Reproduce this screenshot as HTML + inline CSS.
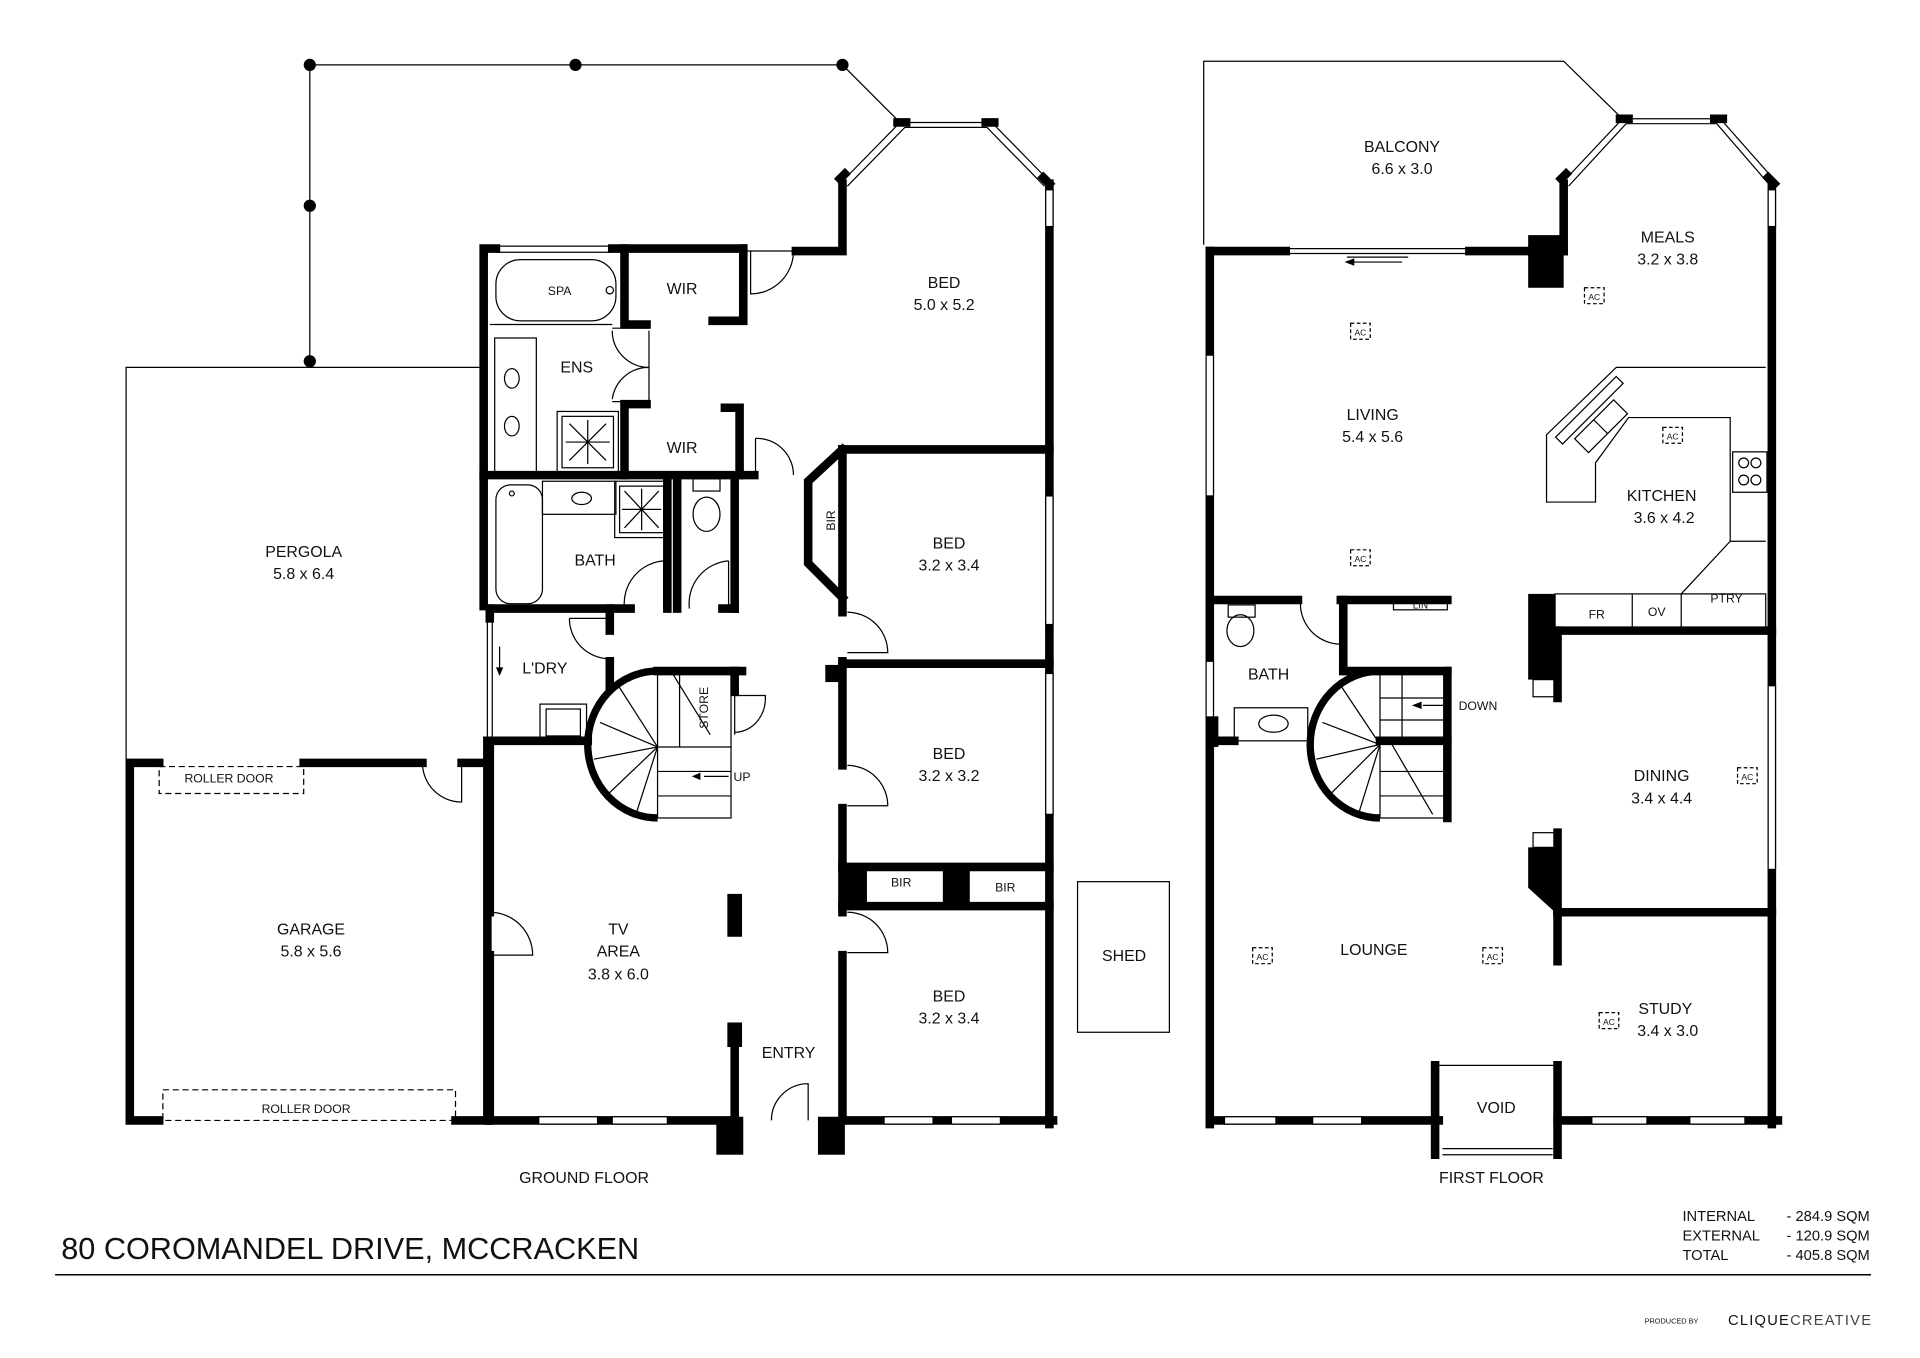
<!DOCTYPE html>
<html><head><meta charset="utf-8"><style>
html,body{margin:0;padding:0;background:#fff;width:1920px;height:1358px;overflow:hidden}
svg{display:block}
text{font-family:"Liberation Sans",sans-serif;fill:#111;text-anchor:middle}
.w{stroke:#000;stroke-width:7;fill:none;stroke-linecap:square}
.t{stroke:#000;stroke-width:1;fill:none}
.l{font-size:13px}
.s{font-size:10px}
</style></head><body>
<svg width="1920" height="1358" viewBox="0 0 1568 1109" xmlns="http://www.w3.org/2000/svg">
<!-- ===== GROUND FLOOR ===== -->
<polyline class="t" points="253,295 253,53 688,53 735,100" stroke="#444"/>
<polyline class="t" points="392,300 103,300 103,620"/>
<g fill="#000"><circle cx="253" cy="53" r="5"/><circle cx="470" cy="53" r="5"/><circle cx="688" cy="53" r="5"/><circle cx="253" cy="168" r="5"/><circle cx="253" cy="295" r="5"/></g>
<polyline class="t" points="688,148 735,100 810,100 857,148"/>
<polyline class="t" points="692,152 739,104 806,104 853,152"/>
<g class="w"><line x1="686" y1="146" x2="690" y2="142"/><line x1="733" y1="100" x2="740" y2="100"/><line x1="805" y1="100" x2="812" y2="100"/><line x1="852" y1="145" x2="857" y2="150"/></g>
<polyline class="w" points="688,150 688,205 650,205"/>
<line class="t" x1="610" y1="205" x2="650" y2="205"/>
<path class="t" d="M613,205 V240 A35,35 0 0 0 648,205"/>
<line class="w" x1="857" y1="150" x2="857" y2="918"/>
<polyline class="w" points="405,203 395,203 395,495"/>
<line class="t" x1="405" y1="201" x2="500" y2="201"/><line class="t" x1="405" y1="206" x2="500" y2="206"/>
<line class="w" x1="500" y1="203" x2="607" y2="203"/>
<polyline class="w" points="607,203 607,262 582,262"/>
<polyline class="w" points="510,203 510,265 528,265"/>
<polyline class="w" points="528,330 510,330 510,388"/>
<polyline class="w" points="592,333 604,333 604,388"/>
<line class="w" x1="395" y1="388" x2="616" y2="388"/>
<rect class="t" x="405" y="212" width="98" height="50" rx="20"/><text class="s" x="457" y="241">SPA</text><circle class="t" cx="498" cy="237" r="3"/>
<line class="t" x1="400" y1="265" x2="500" y2="265"/>
<rect class="t" x="404" y="276" width="34" height="110"/>
<ellipse class="t" cx="418" cy="309" rx="6" ry="8"/><ellipse class="t" cx="418" cy="348" rx="6" ry="8"/>
<rect class="t" x="455" y="336" width="50" height="50"/><rect class="t" x="459" y="340" width="42" height="42"/>
<g class="t"><line x1="465" y1="346" x2="495" y2="376"/><line x1="495" y1="346" x2="465" y2="376"/><line x1="480" y1="343" x2="480" y2="379"/><line x1="462" y1="361" x2="498" y2="361"/></g>
<path class="t" d="M530,270 V328 M500,268 H530 M500,328 H530 M500,270 A30,30 0 0 0 530,300 M500,326 A30,30 0 0 1 530,300"/>
<path class="t" d="M617,358 V388 M617,358 A30,30 0 0 1 648,388"/>
<line class="w" x1="400" y1="497" x2="515" y2="497"/>
<line class="w" x1="545" y1="390" x2="545" y2="497"/>
<line class="w" x1="553" y1="390" x2="553" y2="497"/>
<line class="w" x1="600" y1="390" x2="600" y2="497"/>
<line class="w" x1="590" y1="497" x2="600" y2="497"/>
<rect class="t" x="405" y="396" width="38" height="97" rx="12"/><circle class="t" cx="418" cy="403" r="2"/>
<rect class="t" x="443" y="393" width="60" height="27"/><ellipse class="t" cx="475" cy="407" rx="8" ry="5"/>
<rect class="t" x="502" y="393" width="44" height="46"/><rect class="t" x="506" y="397" width="36" height="38"/>
<g class="t"><line x1="510" y1="401" x2="538" y2="431"/><line x1="538" y1="401" x2="510" y2="431"/><line x1="524" y1="399" x2="524" y2="433"/><line x1="508" y1="416" x2="540" y2="416"/></g>
<rect class="t" x="566" y="391" width="22" height="10"/><ellipse class="t" cx="577" cy="420" rx="11" ry="14"/>
<path class="t" d="M542,458 V497 M542,458 A35,35 0 0 0 510,497"/>
<path class="t" d="M595,458 V497 M595,458 A35,35 0 0 0 563,497"/>
<text class="l" x="486" y="462">BATH</text>
<text class="l" x="471" y="304">ENS</text><text class="l" x="557" y="240">WIR</text><text class="l" x="557" y="370">WIR</text>
<line class="t" x1="398" y1="505" x2="398" y2="605"/><line class="t" x1="402" y1="505" x2="402" y2="605"/>
<line class="w" x1="400" y1="605" x2="480" y2="605"/>
<line class="w" x1="400" y1="497" x2="400" y2="505"/>
<line class="w" x1="498" y1="497" x2="498" y2="515"/>
<line class="w" x1="498" y1="540" x2="498" y2="560"/>
<path class="t" d="M465,505 A33,33 0 0 0 498,538 M465,505 H498"/>
<rect class="t" x="441" y="575" width="38" height="30"/><rect class="t" x="446" y="579" width="28" height="22"/>
<line class="t" x1="408" y1="528" x2="408" y2="548"/><path d="M405,545 L408,552 L411,545Z"/>
<text class="l" x="445" y="550">L'DRY</text>
<path d="M537,548 A57,60 0 0 0 537,668" fill="none" stroke="#000" stroke-width="6"/>
<rect class="t" x="537" y="548" width="60" height="120"/>
<line class="w" x1="537" y1="548" x2="606" y2="548"/>
<line class="w" x1="600" y1="548" x2="600" y2="565"/>
<g class="t"><line x1="537" y1="610" x2="597" y2="610"/><line x1="555" y1="548" x2="555" y2="610"/><line x1="548" y1="548" x2="580" y2="600"/><line x1="537" y1="630" x2="597" y2="630"/><line x1="537" y1="650" x2="597" y2="650"/><line x1="537" y1="610" x2="490" y2="590"/><line x1="537" y1="610" x2="485" y2="620"/><line x1="537" y1="610" x2="495" y2="650"/><line x1="537" y1="610" x2="520" y2="663"/><line x1="537" y1="610" x2="505" y2="560"/></g>
<text class="s" transform="translate(578,578) rotate(-90)">STORE</text>
<path class="t" d="M600,568 V600 M600,568 H625 A25,28 0 0 1 600,598"/>
<line class="t" x1="575" y1="634" x2="595" y2="634"/><path d="M565,634 L572,631 L572,637Z"/>
<text class="s" x="606" y="638">UP</text>
<line class="w" x1="400" y1="608" x2="400" y2="745"/>
<line class="w" x1="400" y1="780" x2="400" y2="915"/>
<path class="t" d="M400,745 A35,35 0 0 1 435,780 H400"/>
<rect x="594" y="730" width="12" height="35" fill="#000"/>
<rect x="594" y="835" width="12" height="20" fill="#000"/>
<line class="w" x1="600" y1="855" x2="600" y2="915"/>
<rect x="585" y="912" width="22" height="31" fill="#000"/>
<rect x="668" y="912" width="22" height="31" fill="#000"/>
<path class="t" d="M630,915 A30,30 0 0 1 660,885 V915"/>
<text class="l" x="505" y="763">TV</text><text class="l" x="505" y="781">AREA</text><text class="l" x="505" y="800">3.8 x 6.0</text>
<text class="l" x="644" y="864">ENTRY</text>
<line class="w" x1="688" y1="367" x2="688" y2="500"/>
<line class="w" x1="688" y1="540" x2="688" y2="625"/>
<line class="w" x1="688" y1="660" x2="688" y2="745"/>
<line class="w" x1="688" y1="780" x2="688" y2="915"/>
<rect x="674" y="543" width="14" height="14" fill="#000"/>
<polyline class="w" points="688,367 660,393 660,460 688,488"/>
<text class="s" transform="translate(682,425) rotate(-90)">BIR</text>
<line class="w" x1="688" y1="367" x2="857" y2="367"/>
<line class="w" x1="688" y1="542" x2="857" y2="542"/>
<path class="t" d="M692,500 A33,33 0 0 1 725,533 H692"/>
<path class="t" d="M692,625 A33,33 0 0 1 725,658 H692"/>
<path class="t" d="M692,745 A33,33 0 0 1 725,778 H692"/>
<line class="w" x1="688" y1="708" x2="857" y2="708"/>
<line class="w" x1="688" y1="740" x2="857" y2="740"/>
<rect x="688" y="708" width="20" height="32" fill="#000"/><rect x="770" y="708" width="22" height="32" fill="#000"/>
<text class="s" x="736" y="724">BIR</text><text class="s" x="821" y="728">BIR</text>
<g fill="#fff" stroke="#000" stroke-width="1"><rect x="854" y="405" width="6" height="105"/><rect x="854" y="550" width="6" height="115"/><rect x="854" y="155" width="6" height="30"/></g>
<text class="l" x="771" y="235">BED</text><text class="l" x="771" y="253">5.0 x 5.2</text>
<text class="l" x="775" y="448">BED</text><text class="l" x="775" y="466">3.2 x 3.4</text>
<text class="l" x="775" y="620">BED</text><text class="l" x="775" y="638">3.2 x 3.2</text>
<text class="l" x="775" y="818">BED</text><text class="l" x="775" y="836">3.2 x 3.4</text>
<polyline class="w" points="130,623 106,623 106,915 130,915"/>
<line class="w" x1="248" y1="623" x2="345" y2="623"/>
<line class="w" x1="398" y1="605" x2="398" y2="915"/>
<line class="w" x1="377" y1="623" x2="398" y2="623"/>
<path class="t" d="M345,623 A32,32 0 0 0 377,655 V623"/>
<rect x="130" y="626" width="118" height="22" fill="none" stroke="#000" stroke-width="1" stroke-dasharray="5,3"/>
<rect x="133" y="890" width="239" height="25" fill="none" stroke="#000" stroke-width="1" stroke-dasharray="5,3"/>
<text class="s" x="187" y="639">ROLLER DOOR</text><text class="s" x="250" y="909">ROLLER DOOR</text>
<line class="w" x1="372" y1="915" x2="600" y2="915"/>
<line class="w" x1="690" y1="915" x2="860" y2="915"/>
<g fill="#fff" stroke="#000" stroke-width="1"><rect x="440" y="912" width="48" height="6"/><rect x="500" y="912" width="45" height="6"/><rect x="722" y="912" width="40" height="6"/><rect x="777" y="912" width="40" height="6"/></g>
<text class="l" x="248" y="455">PERGOLA</text><text class="l" x="248" y="473">5.8 x 6.4</text>
<text class="l" x="254" y="763">GARAGE</text><text class="l" x="254" y="781">5.8 x 5.6</text>
<rect class="t" x="880" y="720" width="75" height="123"/><text class="l" x="918" y="785">SHED</text>
<text class="l" x="477" y="966">GROUND FLOOR</text>

<!-- ===== FIRST FLOOR ===== -->
<polyline class="t" points="983,200 983,50 1277,50 1325,97"/>
<polyline class="t" points="1277,148 1325,97 1405,97 1450,148"/>
<polyline class="t" points="1281,152 1328,101 1402,101 1446,152"/>
<g class="w"><line x1="1275" y1="146" x2="1279" y2="142"/><line x1="1323" y1="97" x2="1330" y2="97"/><line x1="1400" y1="97" x2="1407" y2="97"/><line x1="1444" y1="145" x2="1449" y2="150"/></g>
<line class="w" x1="1277" y1="150" x2="1277" y2="205"/>
<line class="w" x1="1447" y1="150" x2="1447" y2="918"/>
<line class="w" x1="988" y1="205" x2="988" y2="918"/>
<line class="w" x1="988" y1="205" x2="1050" y2="205"/>
<line class="w" x1="1200" y1="205" x2="1277" y2="205"/>
<rect x="1248" y="192" width="29" height="43" fill="#000"/>
<line class="t" x1="1050" y1="203" x2="1200" y2="203"/><line class="t" x1="1050" y1="207" x2="1200" y2="207"/><line class="t" x1="1100" y1="210" x2="1150" y2="210"/>
<line class="t" x1="1105" y1="214" x2="1145" y2="214"/><path d="M1098,214 L1106,211 L1106,217Z"/>
<g fill="#fff" stroke="#000" stroke-width="1"><rect x="985" y="290" width="6" height="115"/><rect x="985" y="540" width="6" height="60"/><rect x="1444" y="155" width="6" height="30"/><rect x="1444" y="560" width="6" height="150"/></g>
<text class="l" x="1145" y="124">BALCONY</text><text class="l" x="1145" y="142">6.6 x 3.0</text>
<text class="l" x="1362" y="198">MEALS</text><text class="l" x="1362" y="216">3.2 x 3.8</text>
<text class="l" x="1121" y="343">LIVING</text><text class="l" x="1121" y="361">5.4 x 5.6</text>
<polyline class="t" points="1442,300 1320,300 1263,355 1263,410 1303,410 1303,378 1330,341 1413,341 1413,442 1442,442"/>
<polyline class="t" points="1413,442 1373,485 1373,515"/>
<rect class="t" x="1270" y="485" width="172" height="30"/><line class="t" x1="1333" y1="485" x2="1333" y2="515"/>
<rect class="t" x="1415" y="369" width="28" height="33"/>
<g class="t"><circle cx="1424" cy="378" r="4"/><circle cx="1434" cy="378" r="4"/><circle cx="1424" cy="392" r="4"/><circle cx="1434" cy="392" r="4"/></g>
<g class="t" transform="translate(1298,335) rotate(-45)"><rect x="-35" y="-4" width="70" height="8"/><rect x="-25" y="8" width="45" height="16"/><line x1="-3" y1="8" x2="-3" y2="24"/></g>
<text class="l" x="1357" y="409">KITCHEN</text><text class="l" x="1359" y="427">3.6 x 4.2</text>
<text class="s" x="1304" y="505">FR</text><text class="s" x="1353" y="503">OV</text><text class="s" x="1410" y="492">PTRY</text>
<line class="w" x1="1270" y1="515" x2="1447" y2="515"/>
<rect x="1248" y="485" width="22" height="70" fill="#000"/>
<rect class="t" x="1252" y="555" width="18" height="14"/>
<line class="w" x1="1272" y1="515" x2="1272" y2="570"/>
<rect class="t" x="1252" y="680" width="18" height="12"/>
<polygon points="1248,692 1270,692 1270,745 1248,725" fill="#000"/>
<line class="w" x1="1272" y1="680" x2="1272" y2="745"/>
<line class="w" x1="1272" y1="745" x2="1447" y2="745"/>
<line class="w" x1="1272" y1="745" x2="1272" y2="785"/>
<text class="l" x="1357" y="638">DINING</text><text class="l" x="1357" y="656">3.4 x 4.4</text>
<text class="l" x="1360" y="828">STUDY</text><text class="l" x="1362" y="846">3.4 x 3.0</text>
<text class="l" x="1122" y="780">LOUNGE</text>
<g fill="none" stroke="#000" stroke-width="1" stroke-dasharray="3,2">
<rect x="1103" y="264" width="16" height="13"/><rect x="1103" y="449" width="16" height="13"/><rect x="1294" y="235" width="16" height="13"/><rect x="1358" y="349" width="16" height="13"/><rect x="1419" y="627" width="16" height="13"/><rect x="1023" y="774" width="16" height="13"/><rect x="1211" y="774" width="16" height="13"/><rect x="1306" y="827" width="16" height="13"/></g>
<g style="font-size:7px"><text x="1111" y="274">AC</text><text x="1111" y="459">AC</text><text x="1302" y="245">AC</text><text x="1366" y="359">AC</text><text x="1427" y="637">AC</text><text x="1031" y="784">AC</text><text x="1219" y="784">AC</text><text x="1314" y="837">AC</text></g>
<line class="w" x1="988" y1="490" x2="1060" y2="490"/>
<line class="w" x1="1095" y1="490" x2="1182" y2="490"/>
<rect class="t" x="1138" y="488" width="44" height="10" fill="#fff"/><text style="font-size:8px" x="1160" y="497">LIN</text>
<line class="w" x1="1097" y1="490" x2="1097" y2="545"/>
<path class="t" d="M1062,493 A33,33 0 0 0 1095,526 V493"/>
<rect class="t" x="1003" y="494" width="22" height="10"/><ellipse class="t" cx="1013" cy="515" rx="11" ry="13"/>
<rect class="t" x="1008" y="578" width="60" height="27"/><ellipse class="t" cx="1040" cy="591" rx="12" ry="7"/>
<line class="w" x1="988" y1="605" x2="1008" y2="605"/>
<rect x="985" y="585" width="10" height="25" fill="#000"/>
<text class="l" x="1036" y="555">BATH</text>
<path d="M1127,548 A57,60 0 0 0 1127,668" fill="none" stroke="#000" stroke-width="6"/>
<rect class="t" x="1127" y="548" width="55" height="120"/>
<line class="w" x1="1097" y1="548" x2="1182" y2="548"/>
<line class="w" x1="1182" y1="548" x2="1182" y2="668"/>
<line class="w" x1="1127" y1="605" x2="1182" y2="605"/>
<g class="t"><line x1="1145" y1="548" x2="1145" y2="605"/><line x1="1127" y1="570" x2="1182" y2="570"/><line x1="1127" y1="588" x2="1182" y2="588"/><line x1="1135" y1="605" x2="1170" y2="665"/><line x1="1127" y1="630" x2="1182" y2="630"/><line x1="1127" y1="650" x2="1182" y2="650"/><line x1="1127" y1="608" x2="1080" y2="590"/><line x1="1127" y1="608" x2="1075" y2="620"/><line x1="1127" y1="608" x2="1085" y2="650"/><line x1="1127" y1="608" x2="1110" y2="663"/><line x1="1127" y1="608" x2="1095" y2="560"/></g>
<line class="t" x1="1162" y1="576" x2="1185" y2="576"/><path d="M1153,576 L1161,573 L1161,579Z"/>
<text class="s" x="1207" y="580">DOWN</text>
<line class="w" x1="988" y1="915" x2="1175" y2="915"/>
<line class="w" x1="1272" y1="915" x2="1452" y2="915"/>
<g fill="#fff" stroke="#000" stroke-width="1"><rect x="1000" y="912" width="42" height="6"/><rect x="1072" y="912" width="40" height="6"/><rect x="1300" y="912" width="45" height="6"/><rect x="1380" y="912" width="45" height="6"/></g>
<line class="w" x1="1172" y1="870" x2="1172" y2="943"/>
<line class="w" x1="1272" y1="870" x2="1272" y2="943"/>
<line class="t" x1="1172" y1="870" x2="1272" y2="870"/>
<line class="t" x1="1178" y1="938" x2="1268" y2="938"/><line class="t" x1="1178" y1="943" x2="1268" y2="943"/>
<text class="l" x="1222" y="909">VOID</text>
<text class="l" x="1218" y="966">FIRST FLOOR</text>
<!-- footer -->
<text x="50" y="1028" style="font-size:25px;text-anchor:start" textLength="472" lengthAdjust="spacingAndGlyphs">80 COROMANDEL DRIVE, MCCRACKEN</text>
<line x1="45" y1="1041" x2="1528" y2="1041" stroke="#000" stroke-width="1.2"/>
<g style="font-size:12px"><text x="1374" y="997" style="text-anchor:start">INTERNAL</text><text x="1374" y="1013" style="text-anchor:start">EXTERNAL</text><text x="1374" y="1029" style="text-anchor:start">TOTAL</text></g>
<g style="font-size:12px"><text x="1527" y="997" style="text-anchor:end">- 284.9 SQM</text><text x="1527" y="1013" style="text-anchor:end">- 120.9 SQM</text><text x="1527" y="1029" style="text-anchor:end">- 405.8 SQM</text></g>
<text x="1387" y="1081" style="font-size:6px;text-anchor:end">PRODUCED BY</text>
<text x="1529" y="1082" style="font-size:12px;text-anchor:end;letter-spacing:1px">CLIQUE<tspan style="fill:#444">CREATIVE</tspan></text>
</svg>
</body></html>
